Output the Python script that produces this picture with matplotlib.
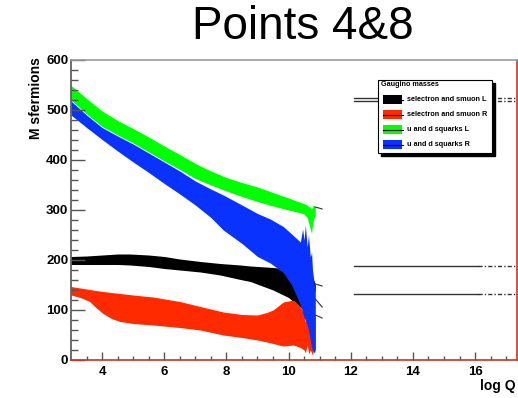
import matplotlib
matplotlib.use("Agg")
import matplotlib.pyplot as plt
from matplotlib.patches import Rectangle
from matplotlib.lines import Line2D

plt.rcParams['font.family'] = ['Liberation Sans', 'DejaVu Sans']

# band envelopes (log Q, M sfermions)
green_x = [3.0, 3.5, 4.0, 4.5, 5.0, 5.5, 6.0, 6.5, 7.0, 7.5, 8.0, 8.5, 9.0, 9.5, 10.0, 10.48,
           10.6, 10.64, 10.7, 10.74, 10.77, 10.8, 10.86]
green_hi = [549, 523, 498, 479, 463, 446, 428, 411, 393, 378, 365, 355, 346, 335, 324, 313,
            310, 307, 306, 302, 306, 310, 306]
green_lo = [520, 492, 467, 450, 434, 416, 398, 381, 363, 350, 338, 327, 317, 308, 300, 293,
            285, 275, 262, 253, 270, 280, 290]

blue_x = [3.0, 3.5, 4.0, 4.5, 5.0, 5.5, 6.0, 6.5, 7.0, 7.5, 7.9, 8.5, 9.0, 9.41, 9.83, 10.1, 10.38,
          10.45, 10.5, 10.54, 10.6, 10.64, 10.7, 10.74, 10.77, 10.83, 10.86]
blue_hi = [518, 490, 465, 448, 432, 414, 396, 378, 358, 342, 330, 310, 293, 282, 267, 252, 236,
           262, 240, 270, 226, 250, 206, 215, 180, 150, 140]
blue_lo = [490, 465, 441, 418, 396, 375, 353, 332, 310, 285, 260, 233, 207, 194, 175, 150, 110,
           95, 85, 80, 70, 60, 40, 25, 20, 14, 20]

black_x = [3.0, 3.5, 4.0, 4.5, 4.9, 5.5, 6.0, 6.5, 7.16, 7.8, 8.45, 8.77, 9.5, 10.0, 10.38,
           10.5, 10.6, 10.7, 10.77, 10.82, 10.86]
black_hi = [207, 208, 210, 212, 212, 210, 207, 202, 197, 193, 190, 188, 185, 182, 178,
            176, 167, 175, 153, 160, 150]
black_lo = [191, 191, 191, 191, 190, 187, 183, 180, 176, 170, 161, 157, 140, 125, 104,
            110, 140, 138, 140, 135, 140]

red_x = [3.0, 3.3, 3.6, 3.8, 4.03, 4.3, 4.58, 5.0, 5.64, 6.5, 7.16, 7.9, 8.5, 9.0, 9.3, 9.5, 9.83,
         10.16, 10.38, 10.5, 10.54, 10.6, 10.65, 10.7, 10.77, 10.82, 10.86]
red_hi = [147, 144, 141, 139, 137, 135, 133, 130, 126, 117, 107, 96, 91, 90, 95, 100, 116,
          120, 107, 90, 77, 80, 70, 85, 82, 90, 88]
red_lo = [130, 125, 117, 105, 93, 83, 77, 73, 70, 65, 60, 50, 45, 40, 36, 33, 28,
          30, 25, 20, 14, 30, 12, 20, 10, 25, 20]

# short stubs after the band ends and the long lines further out
stub_x = [10.86, 11.08]
stub_green = [306, 302]
stub_black = [152, 148]
stub_blue = [122, 106]
stub_red = [90, 84]

tail_x = [12.12, 16.1, 17.35]
tail_green = [525, 525, 525]
tail_blue = [518, 518, 518]
tail_black = [188, 188, 188]
tail_red = [132, 132, 132]

labels = ['selectron and smuon L', 'selectron and smuon R',
          'u and d squarks L', 'u and d squarks R']
colors = ['#000000', '#ff2a00', '#00ff00', '#0a32ff']

W, H = 518, 398
fig = plt.figure(figsize=(W / 100, H / 100), dpi=100)
ax = fig.add_axes([71 / W, (H - 360) / H, 446 / W, 300 / H])

ax.fill_between(black_x, black_lo, black_hi, color=colors[0], lw=0)
ax.fill_between(red_x, red_lo, red_hi, color=colors[1], lw=0)
ax.fill_between(blue_x, blue_lo, blue_hi, color=colors[3], lw=0)
ax.fill_between(green_x, green_lo, green_hi, color=colors[2], lw=0)

for s in [stub_green, stub_black, stub_blue, stub_red]:
    ax.plot(stub_x, s, color='#333333', lw=0.8)
for t in [tail_green, tail_blue, tail_black, tail_red]:
    ax.plot(tail_x[:2], t[:2], color='#333333', lw=1.0)
    ax.plot(tail_x[1:], t[1:], color='#333333', lw=1.0, ls=(0, (3, 1.5, 1, 1.5)))

ax.set_xlim(3, 17.35)
ax.set_ylim(0, 600)
ax.set_xticks([4, 6, 8, 10, 12, 14, 16])
ax.set_xticks([x / 2 for x in range(7, 35)], minor=True)
ax.set_yticks(range(0, 601, 100))
ax.set_yticks(range(0, 601, 20), minor=True)
ax.tick_params(axis='y', which='major', direction='in', length=10, width=1,
               color='#555555', pad=2, labelsize=9.5)
ax.tick_params(axis='y', which='minor', direction='in', length=5, width=1, color='#555555')
ax.tick_params(axis='x', which='major', direction='in', length=6, width=1,
               color='#555555', pad=4, labelsize=9.5)
ax.tick_params(axis='x', which='minor', direction='in', length=3, width=1, color='#555555')
for lab in ax.get_xticklabels() + ax.get_yticklabels():
    lab.set_fontweight('bold')

ax.spines['left'].set_color('#555555')
ax.spines['top'].set_color('#999999')
ax.spines['bottom'].set_color('#cc3322')
ax.spines['right'].set_color('#cc3322')
for sp in ax.spines.values():
    sp.set_linewidth(1.2)

fig.text(192 / W, (H - 39) / H, 'Points 4&8', fontsize=33, ha='left', va='baseline')
fig.text(36 / W, (H - 57) / H, 'M sfermions', rotation=90, ha='center', va='top',
         fontsize=10, fontweight='bold')
fig.text(516 / W, (H - 386) / H, 'log Q', ha='right', va='center',
         fontsize=10, fontweight='bold')

# legend box with drop shadow
def fx(px):
    return px / W

def fy(py):
    return (H - py) / H

fig.add_artist(Rectangle((fx(381), fy(156)), 114 / W, 73 / H, transform=fig.transFigure,
                         facecolor='black', edgecolor='black', zorder=5))
fig.add_artist(Rectangle((fx(378), fy(153)), 114 / W, 73 / H, transform=fig.transFigure,
                         facecolor='white', edgecolor='black', lw=0.8, zorder=6))
fig.text(fx(381), fy(85), 'Gaugino masses', fontsize=5.2, fontweight='bold',
         ha='left', va='center', zorder=7)
for i, (lab, col) in enumerate(zip(labels, colors)):
    yc = 99.5 + i * 15
    fig.add_artist(Rectangle((fx(383), fy(yc + 4.5)), 19 / W, 9 / H, transform=fig.transFigure,
                             facecolor=col, edgecolor='none', zorder=7))
    fig.add_artist(Line2D([fx(383), fx(403)], [fy(yc), fy(yc)], transform=fig.transFigure,
                          color='black', lw=0.8, zorder=8))
    fig.text(fx(407), fy(yc), lab, fontsize=5.2, fontweight='bold', ha='left', va='center', zorder=7)

fig.savefig('out.png', dpi=100)
